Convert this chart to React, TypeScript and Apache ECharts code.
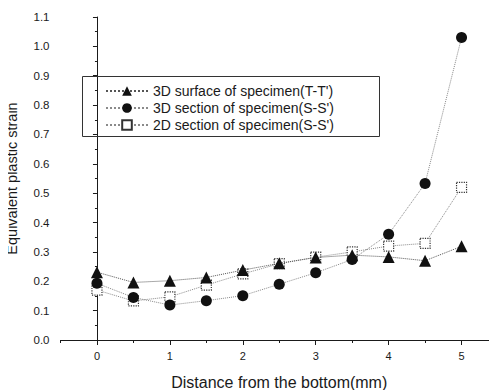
import React, { useEffect, useRef } from "react";
import * as echarts from "echarts";

// Distance from the bottom (mm)
const distances = [0, 0.5, 1, 1.5, 2, 2.5, 3, 3.5, 4, 4.5, 5];

// Equivalent plastic strain for each profile
const surface3D = [0.231, 0.196, 0.202, 0.213, 0.238, 0.261, 0.281, 0.289, 0.283, 0.27, 0.319];
const section3D = [0.193, 0.145, 0.119, 0.134, 0.151, 0.19, 0.229, 0.274, 0.36, 0.533, 1.03];
const section2D = [0.17, 0.133, 0.147, 0.187, 0.225, 0.26, 0.282, 0.3, 0.32, 0.329, 0.52];

const seriesNames = [
  "3D surface of specimen(T-T')",
  "3D section of specimen(S-S')",
  "2D section of specimen(S-S')",
];

const xMajorTicks = [0, 1, 2, 3, 4, 5];
const xMinorTicks = [-0.5, 0.5, 1.5, 2.5, 3.5, 4.5];

const FONT = "'Liberation Sans', Arial, sans-serif";
const INK = "#1a1a1a";

const pairs = (ys: number[]) => distances.map((x, i) => [x, ys[i]]);

export default function App() {
  const ref = useRef<HTMLDivElement>(null);

  useEffect(() => {
    if (!ref.current) return;
    const chart = echarts.init(ref.current, null, { renderer: "svg" });

    const baseX = {
      type: "value" as const,
      min: -0.5,
      max: 5.5,
      interval: 0.5,
      splitLine: { show: false },
    };

    chart.setOption({
      animation: false,
      backgroundColor: "#fff",
      textStyle: { fontFamily: FONT },
      grid: { left: 60.5, right: -1, top: 17, bottom: 50, outerBoundsMode: "none", containLabel: false },
      graphic: [
        {
          // legend frame
          type: "rect",
          shape: { x: 82.5, y: 76.5, width: 297, height: 60 },
          style: { fill: "none", stroke: "#333", lineWidth: 1 },
          z: 10,
        },
      ],
      xAxis: [
        {
          ...baseX,
          name: "Distance from the bottom(mm)",
          nameLocation: "middle",
          nameGap: 34,
          nameTextStyle: { fontSize: 16, color: INK, fontFamily: FONT },
          axisLine: { onZero: false, lineStyle: { color: INK, width: 1 } },
          axisTick: {
            show: true,
            length: 5,
            customValues: xMajorTicks,
            lineStyle: { color: INK },
          },
          axisLabel: {
            customValues: xMajorTicks,
            fontSize: 11,
            color: INK,
            margin: 10,
            formatter: (v: number) => String(v),
          },
        },
        {
          ...baseX,
          position: "bottom",
          axisLine: { show: false, onZero: false },
          axisTick: {
            show: true,
            length: 3,
            customValues: xMinorTicks,
            lineStyle: { color: INK },
          },
          axisLabel: { show: false },
        },
      ],
      yAxis: {
        type: "value",
        min: 0,
        max: 1.1,
        interval: 0.1,
        name: "Equivalent plastic strain",
        nameLocation: "middle",
        nameGap: 41,
        nameTextStyle: { fontSize: 14.5, color: INK, fontFamily: FONT },
        splitLine: { show: false },
        axisLine: { show: true, lineStyle: { color: INK, width: 1 } },
        axisTick: { show: true, length: 4, lineStyle: { color: INK } },
        minorTick: { show: true, splitNumber: 2, length: 2, lineStyle: { color: INK } },
        axisLabel: {
          fontSize: 11.5,
          color: INK,
          margin: 11,
          formatter: (v: number) => v.toFixed(1),
        },
      },
      legend: {
        orient: "vertical",
        left: 82,
        top: 76,
        padding: [8, 10, 9, 23],
        itemWidth: 42,
        itemHeight: 12,
        itemGap: 3,
        data: seriesNames,
        textStyle: { fontSize: 14, color: INK, fontFamily: FONT },
      },
      series: [
        {
          name: seriesNames[2],
          type: "line",
          data: pairs(section2D),
          symbol: "rect",
          symbolSize: 10,
          z: 2,
          lineStyle: { type: "dotted", color: "#8a8a8a", width: 1 },
          itemStyle: {
            color: "#fff",
            borderColor: "#333",
            borderWidth: 1.2,
            borderType: "dotted",
          },
        },
        {
          name: seriesNames[1],
          type: "line",
          data: pairs(section3D),
          symbol: "circle",
          symbolSize: 11,
          z: 3,
          lineStyle: { type: "dotted", color: "#8a8a8a", width: 1 },
          itemStyle: { color: "#111" },
        },
        {
          name: seriesNames[0],
          type: "line",
          data: pairs(surface3D),
          symbol: "triangle",
          symbolSize: 12,
          z: 4,
          lineStyle: { type: "dotted", color: "#555", width: 1 },
          itemStyle: { color: "#111" },
        },
      ],
    });

    return () => chart.dispose();
  }, []);

  return <div ref={ref} style={{ width: 497, height: 390, marginLeft: -8, marginTop: -8 }} />;
}
